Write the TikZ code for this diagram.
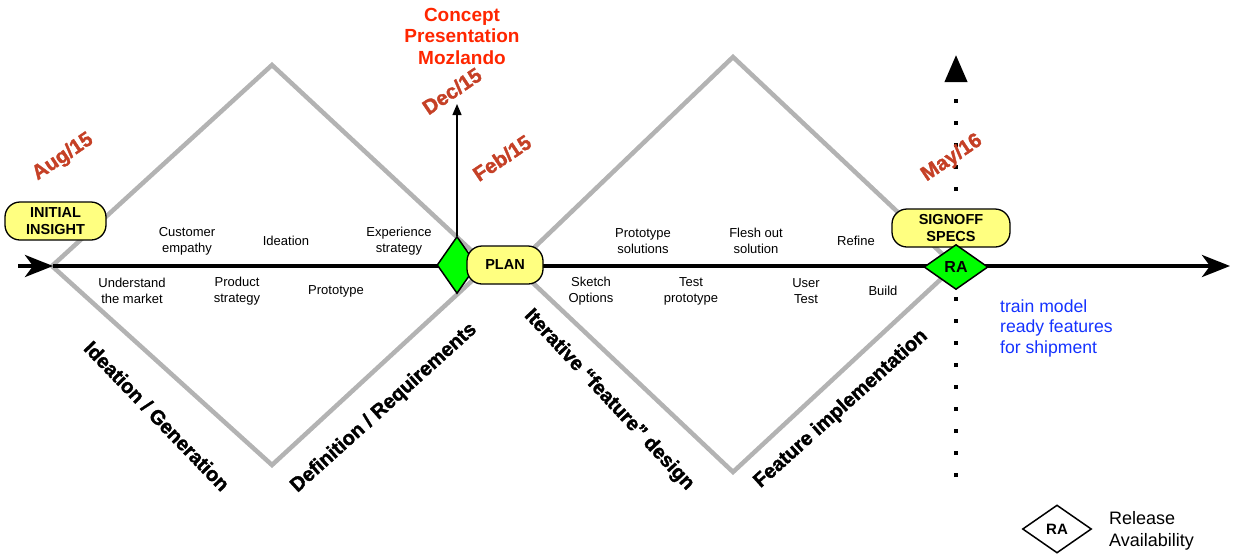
\documentclass[tikz,border=0pt]{standalone}
\usepackage{fontspec}
\setmainfont{Liberation Sans}
\newfontfamily\heavyfont{Liberation Sans}[BoldFeatures={FakeBold=1.6}]
\usetikzlibrary{arrows.meta,shapes.geometric}
\definecolor{grayline}{RGB}{179,179,179}
\definecolor{datecol}{RGB}{197,64,38}
\definecolor{conceptcol}{RGB}{255,38,0}
\definecolor{pillfill}{RGB}{255,255,128}
\definecolor{greenfill}{RGB}{0,255,0}
\definecolor{bluetext}{RGB}{20,50,255}
\begin{document}
\begin{tikzpicture}[x=1pt,y=-1pt,
  phase/.style={draw=grayline,line width=4.5pt,line join=miter},
  mainline/.style={line width=4pt,-{Stealth[length=28pt,width=22pt,inset=8pt]}},
  lbl/.style={font=\fontsize{13}{16}\selectfont,align=center,inner sep=0pt},
  datelbl/.style={font=\heavyfont\bfseries\fontsize{20.5}{22}\selectfont,text=datecol,rotate=34,inner sep=0pt},
  phaselbl/.style={font=\heavyfont\bfseries\fontsize{20}{22}\selectfont,inner sep=0pt},
  pill/.style={draw,line width=1.3pt,fill=pillfill,rounded corners=15pt,minimum height=38pt,
    font=\bfseries\fontsize{14.5}{17}\selectfont,align=center,inner sep=0pt},
  gdiamond/.style={diamond,draw,line width=1.5pt,fill=greenfill,inner sep=0pt,
    font=\bfseries\fontsize{16}{18}\selectfont}
]
\useasboundingbox (0,0) rectangle (1248,558);

% gray double diamond
\coordinate (d1l) at (52,266);
\coordinate (d1t) at (272,65);
\coordinate (d1r) at (488,266);
\coordinate (d1b) at (272,465);
\draw[phase] (d1l) -- (d1t) -- (d1r) -- (d1b) -- cycle;
\coordinate (d2l) at (515,266);
\coordinate (d2t) at (733,57);
\coordinate (d2r) at (955,266);
\coordinate (d2b) at (733,472);
\draw[phase] (d2l) -- (d2t) -- (d2r) -- (d2b) -- cycle;

% dotted vertical release line
\coordinate (vbot) at (956,477);
\coordinate (vtop) at (956,55);
\draw[line width=4pt,dash pattern=on 4pt off 18pt,-{Triangle[length=27pt,width=22pt]}] (vbot) -- (vtop);

% main time line
\coordinate (mstart) at (18,266);
\coordinate (mtip) at (53,266);
\coordinate (mend) at (1230,266);
\draw[mainline] (mstart) -- (mtip);
\draw[mainline] (mtip) -- (mend);

% milestone nodes
\node[pill,minimum width=101pt] (init) at (55.5,221) {INITIAL\\INSIGHT};
\node[gdiamond,minimum width=40pt,minimum height=57pt] (pd) at (457,265) {};
\coordinate (dec) at (457,104);
\draw[line width=1.3pt,-{Triangle[length=11pt,width=9pt]}] (pd.north) -- (dec);
\node[pill,minimum width=76pt] (plan) at (505,265) {PLAN};
\node[pill,minimum width=118pt] (signoff) at (951,228) {SIGNOFF\\SPECS};
\node[gdiamond,minimum width=64pt,minimum height=45pt] (ra) at (956,267) {RA};

% dates
\node[datelbl] (aug) at (63,157) {Aug/15};
\node[datelbl] (decl) at (452,91) {Dec/15};
\node[datelbl] (feb) at (502,158) {Feb/15};
\node[datelbl] (may) at (952,158) {May/16};

% concept presentation
\node[font=\bfseries\fontsize{19}{21.5}\selectfont,text=conceptcol,align=center,inner sep=0pt] (concept) at (462,36) {Concept\\Presentation\\Mozlando};

% activity labels
\node[lbl] (l1) at (187,241) {Customer\\empathy};
\node[lbl] (l2) at (286,241) {Ideation};
\node[lbl] (l3) at (399,241) {Experience\\strategy};
\node[lbl] (l4) at (132,291) {Understand\\the market};
\node[lbl] (l5) at (237,291) {Product\\strategy};
\node[lbl] (l6) at (336,291) {Prototype};
\node[lbl] (l7) at (643,241) {Prototype\\solutions};
\node[lbl] (l8) at (756,241) {Flesh out\\solution};
\node[lbl] (l9) at (856,241) {Refine};
\node[lbl] (l10) at (591,291) {Sketch\\Options};
\node[lbl] (l11) at (691,291) {Test\\prototype};
\node[lbl] (l12) at (806,291) {User\\Test};
\node[lbl] (l13) at (883,291) {Build};

% phase labels
\node[phaselbl,rotate=-46] (p1) at (157,416) {Ideation / Generation};
\node[phaselbl,rotate=42] (p2) at (384,408) {Definition / Requirements};
\node[phaselbl,rotate=-47] (p3) at (609,400) {Iterative “feature” design};
\node[phaselbl,rotate=42] (p4) at (841,409) {Feature implementation};

% blue note
\node[font=\fontsize{17.6}{20.5}\selectfont,text=bluetext,align=left,anchor=west,inner sep=0pt] (note) at (1000,328) {train model\\ready features\\for shipment};

% legend
\node[diamond,draw,line width=1.5pt,fill=white,inner sep=0pt,minimum width=69pt,minimum height=48pt,
  font=\bfseries\fontsize{15}{17}\selectfont] (legd) at (1057,529) {RA};
\node[font=\fontsize{18}{22}\selectfont,align=left,anchor=west,inner sep=0pt] (legt) at (1109,531) {Release\\Availability};
\end{tikzpicture}
\end{document}
